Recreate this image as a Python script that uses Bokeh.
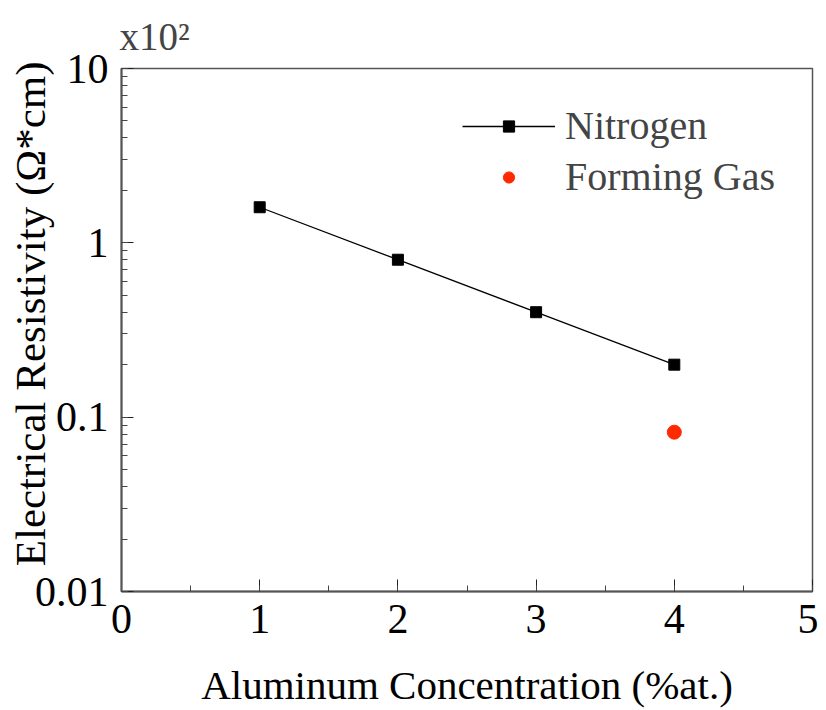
from bokeh.plotting import figure
from bokeh.models import Legend, LegendItem, LogTicker, SingleIntervalTicker, CustomJSTickFormatter, Range1d
from bokeh.embed import file_html
from bokeh.resources import INLINE

# Data
al_conc = [1, 2, 3, 4]
nitrogen = [1.6, 0.8, 0.4, 0.2]
fg_conc = [4]
forming_gas = [0.082]

x_title = "Aluminum Concentration (%at.)"
y_title = "\u00a0\u00a0\u00a0Electrical Resistivity (\u03a9*cm)"
scale_note = "x10\u00b2"
series_names = ["Nitrogen", "Forming Gas"]

FONT = "Liberation Serif"

p = figure(width=818, height=710, y_axis_type="log",
           x_range=Range1d(0, 5), y_range=Range1d(0.01, 10),
           output_backend="svg", toolbar_location=None,
           min_border_left=121, min_border_top=68,
           min_border_right=6, min_border_bottom=119)
p.grid.visible = False
p.outline_line_color = "#555555"
p.outline_line_width = 1.5
p.background_fill_color = "white"
p.border_fill_color = "white"

p.title.text = scale_note
p.title.text_font = FONT
p.title.text_font_size = "39px"
p.title.text_font_style = "normal"
p.title.align = "left"
p.title.offset = -2
p.title.standoff = 22

# axes
p.xaxis.ticker = SingleIntervalTicker(interval=1, num_minor_ticks=2)
p.yaxis.ticker = LogTicker(num_minor_ticks=10)
p.yaxis.formatter = CustomJSTickFormatter(code="return Number(tick.toPrecision(3)).toString();")
for ax in (p.xaxis[0], p.yaxis[0]):
    ax.axis_line_color = "#555555"
    ax.axis_line_width = 2
    ax.major_tick_in = 12
    ax.major_tick_out = 0
    ax.minor_tick_in = 6
    ax.minor_tick_out = 0
    ax.major_tick_line_color = "#222222"
    ax.minor_tick_line_color = "#444444"
    ax.major_label_text_font = FONT
    ax.major_label_text_font_size = "42px"
    ax.major_label_text_color = "black"
    ax.major_label_standoff = 13
    ax.axis_label_text_font = FONT
    ax.axis_label_text_font_style = "normal"
    ax.axis_label_text_color = "black"

p.xaxis.axis_label = x_title
p.xaxis.axis_label_text_font_size = "41px"
p.xaxis.axis_label_standoff = 26
p.yaxis.axis_label = y_title
p.yaxis.axis_label_text_font_size = "43px"
p.yaxis.axis_label_standoff = -22

l1 = p.line(al_conc, nitrogen, line_color="black", line_width=1.3)
s1 = p.scatter(al_conc, nitrogen, marker="square", size=11, fill_color="black", line_color="black")
c1 = p.scatter(fg_conc, forming_gas, marker="circle", size=14, fill_color="#ff2a00", line_color="#ff2a00")

legend = Legend(items=[LegendItem(label=series_names[0], renderers=[l1, s1]),
                       LegendItem(label=series_names[1], renderers=[c1])],
                location=(341, 391), border_line_color=None, background_fill_alpha=0,
                padding=0, margin=0, spacing=4, glyph_width=93, glyph_height=28,
                label_height=44, label_standoff=10,
                label_text_font=FONT, label_text_font_size="40px")
p.add_layout(legend, "center")

open("out.html", "w").write(file_html(p, INLINE))
